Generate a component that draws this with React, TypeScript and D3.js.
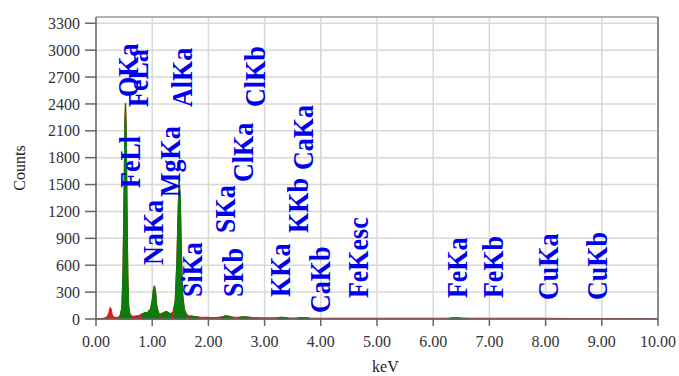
import React from "react";
import * as d3 from "d3";

// spectrum (keV, counts)
const energy = [
  0.0, 0.1, 0.15, 0.2, 0.23, 0.25, 0.27, 0.29, 0.32, 0.36, 0.4, 0.43, 0.46, 0.48, 0.5, 0.515, 0.525,
  0.535, 0.55, 0.565, 0.58, 0.6, 0.63, 0.67, 0.72, 0.77, 0.82, 0.87, 0.92, 0.97, 1.0, 1.02, 1.04,
  1.06, 1.08, 1.11, 1.15, 1.2, 1.25, 1.29, 1.33, 1.37, 1.41, 1.44, 1.46, 1.48, 1.5, 1.52, 1.54,
  1.57, 1.61, 1.66, 1.72, 1.78, 1.85, 1.95, 2.05, 2.15, 2.25, 2.31, 2.36, 2.45, 2.55, 2.62, 2.7,
  2.8, 2.95, 3.1, 3.25, 3.31, 3.4, 3.55, 3.69, 3.8, 3.95, 4.1, 4.3, 4.6, 5.0, 5.5, 6.0, 6.3, 6.4,
  6.5, 6.8, 7.1, 7.5, 8.0, 8.5, 9.0, 9.5, 10.0,
];
const counts = [
  0, 5, 10, 25, 70, 125, 110, 40, 20, 15, 20, 40, 120, 500, 1400, 2200, 2410,
  2150, 1300, 500, 150, 60, 35, 30, 35, 40, 55, 70, 75, 110, 200, 320, 370,
  300, 150, 70, 55, 70, 85, 70, 55, 80, 200, 650, 1150, 1570, 1300, 700, 280,
  110, 50, 35, 30, 25, 20, 18, 15, 18, 25, 35, 30, 20, 18, 25, 20,
  15, 12, 12, 15, 18, 12, 10, 15, 10, 8, 8, 8, 7, 6, 6, 6, 9, 14,
  9, 6, 7, 6, 7, 5, 5, 4, 3,
];

// peak windows drawn in green
const roiStart = [0.42, 0.8, 1.15, 1.38, 1.68, 2.22, 2.55, 3.22, 3.58, 6.27];
const roiEnd = [0.62, 1.12, 1.35, 1.62, 1.82, 2.4, 2.72, 3.43, 3.82, 6.62];

// element markers: name, keV, counts where the text starts
const markerNames = ["FeLl", "OKa", "FeLa", "NaKa", "MgKa", "AlKa", "SiKa", "SKa", "SKb", "ClKa",
  "ClKb", "KKa", "KKb", "CaKa", "CaKb", "FeKesc", "FeKa", "FeKb", "CuKa", "CuKb"];
const markerKeV = [0.6, 0.57, 0.75, 1.01, 1.32, 1.53, 1.71, 2.3, 2.44, 2.62,
  2.83, 3.27, 3.59, 3.68, 3.99, 4.66, 6.42, 7.06, 8.04, 8.91];
const markerCounts = [1462, 2477, 2366, 603, 1362, 2366, 245, 960, 245, 1529,
  2366, 245, 960, 1663, 67, 234, 234, 234, 212, 212];

const keVTicks = [0, 1, 2, 3, 4, 5, 6, 7, 8, 9, 10];
const countTicks = [0, 300, 600, 900, 1200, 1500, 1800, 2100, 2400, 2700, 3000, 3300];

const W = 679, H = 376;
const serif = "'Liberation Serif', 'Times New Roman', serif";

export default function App() {
  const x = d3.scaleLinear().domain([0, 10]).range([96, 658]);
  const y = d3.scaleLinear().domain([0, 3370]).range([319, 17]);
  const data = energy.map((e, i) => ({ e, c: counts[i] }));

  const area = d3.area<{ e: number; c: number }>()
    .x(d => x(d.e))
    .y0(y(0))
    .y1(d => y(d.c));
  const path = area(data) || "";

  return (
    <svg width={W} height={H} style={{ position: "absolute", left: 0, top: 0, background: "#fff" }}>
      <defs>
        <clipPath id="roi">
          {roiStart.map((s, i) => (
            <rect key={i} x={x(s)} y={0} width={x(roiEnd[i]) - x(s)} height={y(0) + 1} />
          ))}
        </clipPath>
      </defs>

      {/* grid */}
      {countTicks.map(t => (
        <line key={"h" + t} x1={x(0)} x2={x(10)} y1={y(t)} y2={y(t)} stroke="#d8d8d8" strokeWidth={1.5} />
      ))}
      {keVTicks.map(t => (
        <line key={"v" + t} x1={x(t)} x2={x(t)} y1={y(3370)} y2={y(0)} stroke="#d8d8d8" strokeWidth={1.5} />
      ))}

      {/* spectrum */}
      <path d={path} fill="#e31a1a" stroke="#e31a1a" strokeWidth={1.2} />
      <path d={path} fill="#0a7d0a" stroke="#0a7d0a" strokeWidth={1.2} clipPath="url(#roi)" />

      {/* frame */}
      <line x1={x(0)} x2={x(10)} y1={y(3370)} y2={y(3370)} stroke="#9a9a9a" strokeWidth={1.5} />
      <line x1={x(10)} x2={x(10)} y1={y(3370)} y2={y(0)} stroke="#8a8a8a" strokeWidth={2} />
      <line x1={x(0)} x2={x(0)} y1={y(3370)} y2={y(0)} stroke="#666" strokeWidth={1.5} />
      <line x1={x(0)} x2={x(10)} y1={y(0)} y2={y(0)} stroke="#666" strokeWidth={1.5} />

      {/* y axis */}
      {countTicks.map(t => (
        <g key={"yt" + t}>
          <line x1={85} x2={x(0)} y1={y(t)} y2={y(t)} stroke="#666" strokeWidth={1.5} />
          <text x={80} y={y(t)} dy="0.35em" textAnchor="end" fontFamily={serif} fontSize={16} fill="#333">
            {t}
          </text>
        </g>
      ))}
      <text transform={`translate(19,168) rotate(-90)`} textAnchor="middle" dy="0.35em"
        fontFamily={serif} fontSize={16} fill="#222">Counts</text>

      {/* x axis */}
      {keVTicks.map(t => (
        <g key={"xt" + t}>
          <line x1={x(t)} x2={x(t)} y1={y(0)} y2={y(0) + 7} stroke="#666" strokeWidth={1.5} />
          <text x={x(t)} y={347} textAnchor="middle" fontFamily={serif} fontSize={16} fill="#333">
            {t.toFixed(2)}
          </text>
        </g>
      ))}
      <text x={x(5.15)} y={372} textAnchor="middle" fontFamily={serif} fontSize={16} fill="#222">keV</text>

      {/* element markers */}
      {markerNames.map((n, i) => (
        <text key={n}
          transform={`translate(${x(markerKeV[i])},${y(markerCounts[i])}) scale(1.15,1) rotate(-90)`}
          dy="0.33em" fontFamily={serif} fontWeight="bold" fontSize={26} fill="#0000ee">
          {n}
        </text>
      ))}
    </svg>
  );
}
